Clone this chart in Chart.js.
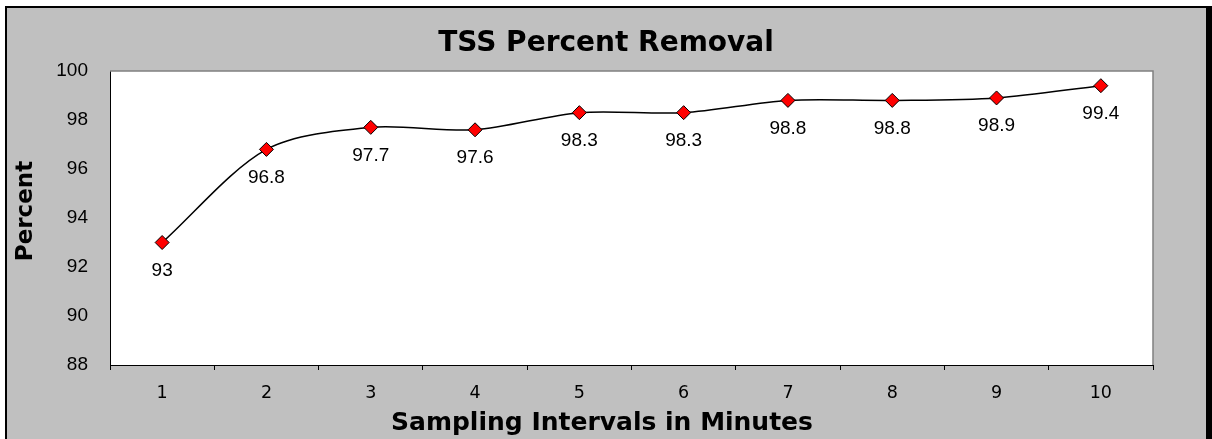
<!DOCTYPE html>
<html><head><meta charset="utf-8">
<script src="https://cdn.jsdelivr.net/npm/chart.js@4.4.1/dist/chart.umd.min.js"></script>
<style>html,body{margin:0;padding:0;background:#fff;}#wrap{width:1212px;height:439px;}</style>
</head><body><div id="wrap"><canvas id="c" width="1212" height="439"></canvas></div>
<script>
const categories = ['1','2','3','4','5','6','7','8','9','10'];
const removal = [93, 96.8, 97.7, 97.6, 98.3, 98.3, 98.8, 98.8, 98.9, 99.4];
const yTicks = [88, 90, 92, 94, 96, 98, 100];
const chartTitle = 'TSS Percent Removal';
const xTitle = 'Sampling Intervals in Minutes';
const yTitle = 'Percent';

const frame = {
  id: 'frame',
  beforeDraw(chart) {
    const ctx = chart.ctx, a = chart.chartArea;
    ctx.save();
    ctx.fillStyle = '#ffffff';
    ctx.fillRect(0, 0, chart.width, chart.height);
    ctx.fillStyle = '#000000';
    ctx.fillRect(5, 6, chart.width - 5, chart.height);
    ctx.fillStyle = '#c0c0c0';
    ctx.fillRect(7, 8, 1199, chart.height);
    ctx.fillStyle = '#ffffff';
    ctx.fillRect(a.left, a.top, a.right - a.left, a.bottom - a.top);
    ctx.restore();
  },
  beforeDatasetsDraw(chart) {
    const ctx = chart.ctx, a = chart.chartArea;
    ctx.save();
    ctx.strokeStyle = '#808080';
    ctx.lineWidth = 1.5;
    ctx.beginPath();
    ctx.moveTo(a.left, a.top);
    ctx.lineTo(a.right, a.top);
    ctx.lineTo(a.right, a.bottom);
    ctx.stroke();
    ctx.restore();
  },
  afterDatasetsDraw(chart) {
    const ctx = chart.ctx;
    const meta = chart.getDatasetMeta(0);
    ctx.save();
    ctx.fillStyle = '#000';
    ctx.font = '19px "Liberation Sans", Arial, sans-serif';
    ctx.textAlign = 'center';
    ctx.textBaseline = 'middle';
    meta.data.forEach((pt, i) => {
      ctx.fillText(String(removal[i]), pt.x, pt.y + 28);
    });
    ctx.restore();
  },
  afterDraw(chart) {
    const ctx = chart.ctx;
    ctx.save();
    ctx.fillStyle = '#000';
    ctx.font = 'bold 25px "DejaVu Sans", Verdana, sans-serif';
    ctx.textAlign = 'center';
    ctx.textBaseline = 'middle';
    ctx.fillText(xTitle, 602, 423);
    ctx.font = 'bold 23px "DejaVu Sans", Verdana, sans-serif';
    ctx.translate(26, 211);
    ctx.rotate(-Math.PI / 2);
    ctx.fillText(yTitle, 0, 0);
    ctx.restore();
  }
};

new Chart(document.getElementById('c'), {
  type: 'line',
  data: {
    labels: categories,
    datasets: [{
      data: removal,
      borderColor: '#000000',
      borderWidth: 1.5,
      tension: 0.3,
      pointStyle: 'rectRot',
      pointRadius: 7,
      pointHoverRadius: 7,
      pointBackgroundColor: '#ff0000',
      pointBorderColor: '#000000',
      pointBorderWidth: 1,
      clip: false,
      yAxisID: 'y'
    }]
  },
  options: {
    responsive: false,
    devicePixelRatio: 1,
    animation: false,
    events: [],
    layout: { padding: 0 },
    plugins: {
      legend: { display: false },
      tooltip: { enabled: false },
      title: {
        display: true,
        text: chartTitle,
        color: '#000',
        font: { family: '"DejaVu Sans", Verdana, sans-serif', size: 28, weight: 'bold' },
        padding: { top: 27.4, bottom: 10 }
      }
    },
    scales: {
      x: {
        type: 'category',
        offset: true,
        grid: { display: true, drawOnChartArea: false, drawTicks: true, tickLength: 5, color: '#000', offset: true, lineWidth: 1 },
        border: { display: true, color: '#000', width: 1 },
        ticks: { color: '#000', font: { family: '"DejaVu Sans", Verdana, sans-serif', size: 17.5 }, padding: 13, maxRotation: 0 },
        afterFit(s) { s.height = 74; }
      },
      y: {
        type: 'linear',
        position: 'left',
        min: 88,
        max: 100,
        grid: { display: false },
        border: { display: true, color: '#000', width: 1 },
        ticks: { color: '#000', font: { family: '"Liberation Sans", Arial, sans-serif', size: 19 }, padding: 14 },
        afterBuildTicks(s) { s.ticks = yTicks.map(v => ({ value: v })); },
        afterFit(s) { s.width = 110; }
      },
      yr: {
        type: 'linear',
        position: 'right',
        display: true,
        grid: { display: false },
        border: { display: false },
        ticks: { display: false },
        afterFit(s) { s.width = 59; }
      }
    }
  },
  plugins: [frame]
});
</script>
</body></html>
